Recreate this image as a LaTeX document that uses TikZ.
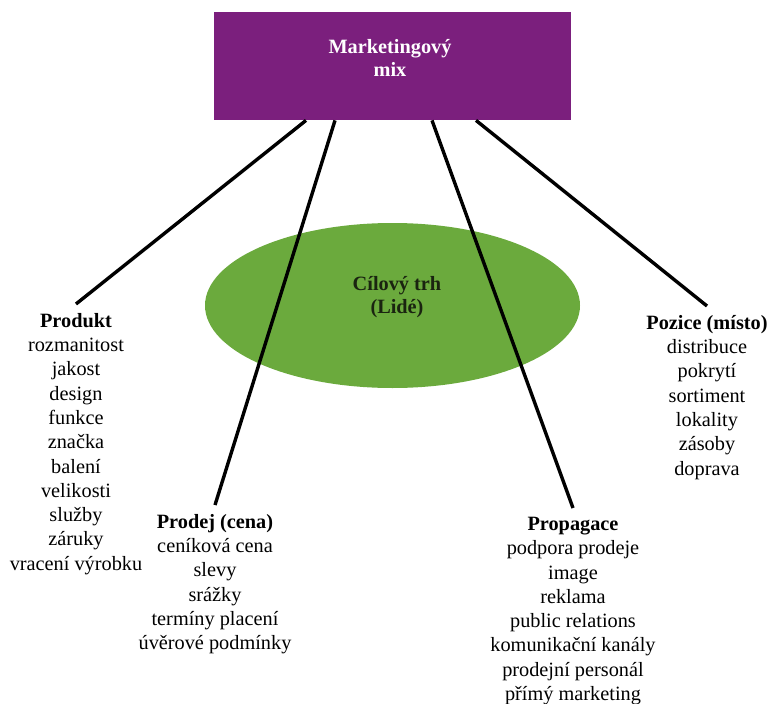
\documentclass[tikz,border=0pt]{standalone}
\usepackage{fontspec}
\setmainfont{Liberation Serif}
\usetikzlibrary{shapes.geometric,calc}
\definecolor{mixpurple}{HTML}{7B1F7D}
\definecolor{targetgreen}{HTML}{6BAA3D}
\definecolor{targetink}{HTML}{1A2410}
\begin{document}
\begin{tikzpicture}[x=1pt,y=-1pt,
  col/.style={align=center, inner sep=0pt, anchor=north, font=\fontsize{20.3}{24.3}\selectfont},
  boxtext/.style={align=center, inner sep=0pt, font=\bfseries\fontsize{20.3}{23.5}\selectfont},
  conn/.style={line width=3.4pt, black},
]
\useasboundingbox (0,0) rectangle (769,704);
\node[fill=mixpurple, minimum width=357pt, minimum height=108pt, inner sep=0pt, anchor=north west] (mix) at (214,12) {};
\node[boxtext, text=white] (mixtext) at (390,58) {Marketingový\\mix};
\node[ellipse, fill=targetgreen, minimum width=375pt, minimum height=165pt, inner sep=0pt] (target) at (392.5,305.5) {};
\node[boxtext, text=targetink] (targettext) at (397,297) {Cílový trh\\(Lidé)};

\node[col] (produkt) at (76,313) {\textbf{Produkt}\\rozmanitost\\jakost\\design\\funkce\\značka\\balení\\velikosti\\služby\\záruky\\vracení výrobku};
\node[col] (prodej) at (215,514) {\textbf{Prodej (cena)}\\ceníková cena\\slevy\\srážky\\termíny placení\\úvěrové podmínky};
\node[col] (propagace) at (573,517) {\textbf{Propagace}\\podpora prodeje\\image\\reklama\\public relations\\komunikační kanály\\prodejní personál\\přímý marketing};
\node[col] (pozice) at (707,315) {\textbf{Pozice (místo)}\\distribuce\\pokrytí\\sortiment\\lokality\\zásoby\\doprava};

\coordinate (s1) at ($(mix.south west)+(92,0)$);
\coordinate (s2) at ($(mix.south west)+(121,0)$);
\coordinate (s3) at ($(mix.south west)+(218,0)$);
\coordinate (s4) at ($(mix.south west)+(262,0)$);
\draw[conn] (s1) -- ($(produkt.north)+(0,-9)$);
\draw[conn] (s2) -- ($(prodej.north)+(0,-9)$);
\draw[conn] (s3) -- ($(propagace.north)+(0,-9)$);
\draw[conn] (s4) -- ($(pozice.north)+(0,-9)$);
\end{tikzpicture}
\end{document}
